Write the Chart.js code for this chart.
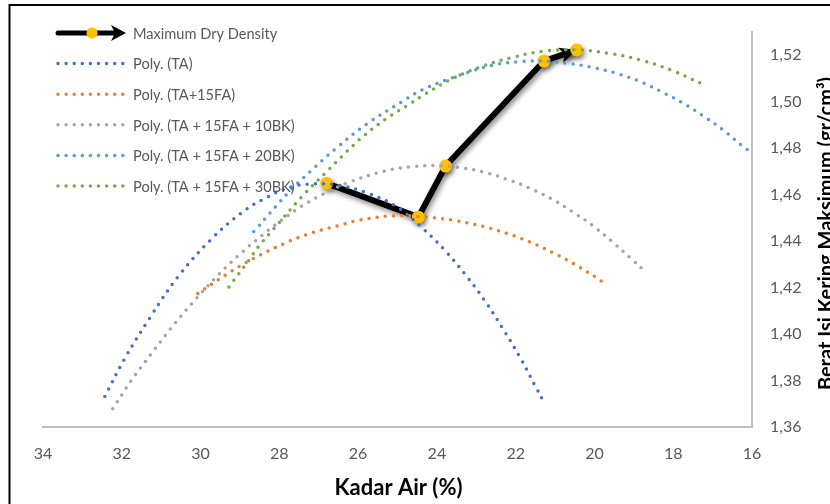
<!DOCTYPE html>
<html>
<head>
<meta charset="utf-8">
<script src="https://cdn.jsdelivr.net/npm/chart.js@4.4.1/dist/chart.umd.min.js"></script>
<style>
  html, body { margin: 0; padding: 0; background: #fff; }
</style>
</head>
<body>
<canvas id="chart" width="830" height="504"></canvas>
<script>
// axis ticks
const xTickValues = [34, 32, 30, 28, 26, 24, 22, 20, 18, 16];
const yTickValues = [1.36, 1.38, 1.40, 1.42, 1.44, 1.46, 1.48, 1.50, 1.52];

// Maximum Dry Density path
const mddX = [26.80, 24.47, 23.78, 21.28, 20.45];
const mddY = [1.4649, 1.4503, 1.4723, 1.5175, 1.5223];

// polynomial trendlines
const taX = [32.43, 31.94, 31.28, 30.57, 29.73, 28.96, 28.41, 27.69, 27.14, 26.54, 25.78, 25.02, 24.39, 23.79, 23.25, 22.75, 22.30, 21.87, 21.48, 21.28];
const taY = [1.3731, 1.3890, 1.4072, 1.4247, 1.4408, 1.4522, 1.4580, 1.4634, 1.4646, 1.4642, 1.4608, 1.4548, 1.4459, 1.4359, 1.4250, 1.4135, 1.4016, 1.3894, 1.3769, 1.3705];

const faX = [30.07, 29.37, 28.65, 27.90, 27.13, 26.52, 25.95, 25.11, 24.47, 23.62, 22.80, 22.20, 21.62, 21.05, 20.50, 19.96, 19.79];
const faY = [1.4175, 1.4254, 1.4326, 1.4388, 1.4438, 1.4466, 1.4491, 1.4509, 1.4506, 1.4491, 1.4462, 1.4432, 1.4395, 1.4350, 1.4300, 1.4244, 1.4224];

const bk10X = [32.23, 31.77, 31.27, 30.76, 30.22, 29.65, 29.05, 28.41, 27.94, 27.39, 26.84, 26.29, 25.32, 24.64, 24.01, 23.41, 22.79, 22.19, 21.62, 21.05, 20.52, 20.00, 19.52, 19.05, 18.74];
const bk10Y = [1.3679, 1.3797, 1.3911, 1.4023, 1.4132, 1.4237, 1.4336, 1.4429, 1.4491, 1.4555, 1.4606, 1.4649, 1.4702, 1.4720, 1.4725, 1.4716, 1.4696, 1.4664, 1.4626, 1.4578, 1.4522, 1.4461, 1.4393, 1.4322, 1.4273];

const bk20X = [28.65, 27.71, 27.22, 26.59, 25.78, 24.89, 24.35, 23.77, 23.16, 22.57, 21.93, 21.28, 20.68, 20.07, 19.47, 18.88, 18.30, 17.74, 17.22, 16.71, 16.22, 16.05];
const bk20Y = [1.4441, 1.4620, 1.4699, 1.4795, 1.4904, 1.5000, 1.5053, 1.5093, 1.5129, 1.5158, 1.5172, 1.5175, 1.5165, 1.5148, 1.5124, 1.5089, 1.5043, 1.4993, 1.4937, 1.4875, 1.4806, 1.4785];

const bk30X = [29.28, 28.78, 28.53, 27.98, 27.43, 26.84, 26.29, 25.83, 25.27, 24.73, 24.40, 23.69, 22.92, 22.12, 21.30, 20.45, 19.62, 18.80, 18.01, 17.25];
const bk30Y = [1.4203, 1.4316, 1.4376, 1.4484, 1.4591, 1.4692, 1.4785, 1.4857, 1.4929, 1.4986, 1.5022, 1.5092, 1.5148, 1.5189, 1.5217, 1.5223, 1.5208, 1.5178, 1.5133, 1.5075];

const FONT = "Lato, 'Open Sans', sans-serif";
const pts = (xs, ys) => xs.map((x, i) => ({ x, y: ys[i] }));

function trend(label, xs, ys, color) {
  return {
    label,
    data: pts(xs, ys),
    showLine: true,
    borderColor: color,
    backgroundColor: color,
    borderWidth: 3.5,
    borderDash: [0, 8.2],
    borderCapStyle: "round",
    pointRadius: 0,
    tension: 0.4,
    order: 0,
  };
}

function arrowHead(ctx, tx, ty, ang, len, half, notch) {
  const c = Math.cos(ang), s = Math.sin(ang);
  const bx = tx - len * c, by = ty - len * s;
  ctx.beginPath();
  ctx.moveTo(tx, ty);
  ctx.lineTo(bx - half * s, by + half * c);
  ctx.lineTo(tx - (len - notch) * c, ty - (len - notch) * s);
  ctx.lineTo(bx + half * s, by - half * c);
  ctx.closePath();
  ctx.fill();
}

// shadow + arrow for the black path
const mddStyle = {
  id: "mddStyle",
  beforeDatasetDraw(chart, args) {
    if (args.index !== 0) return;
    const ctx = chart.ctx;
    ctx.save();
    ctx.shadowColor = "rgba(0,0,0,0.45)";
    ctx.shadowBlur = 5;
    ctx.shadowOffsetX = 2;
    ctx.shadowOffsetY = 3;
    const d = args.meta.data;
    const a = d[d.length - 2], b = d[d.length - 1];
    ctx.fillStyle = "#000";
    arrowHead(ctx, b.x, b.y, Math.atan2(b.y - a.y, b.x - a.x), 17, 8, 4);
  },
  afterDatasetDraw(chart, args) {
    if (args.index !== 0) return;
    chart.ctx.restore();
  },
};

const decor = {
  id: "decor",
  afterDraw(chart) {
    const ctx = chart.ctx;
    const area = chart.chartArea;
    ctx.save();

    // legend
    ctx.font = "14.6px " + FONT;
    ctx.textBaseline = "middle";
    chart.data.datasets.forEach((ds, i) => {
      const y = 33 + i * 30.6;
      if (i === 0) {
        ctx.strokeStyle = "#000";
        ctx.fillStyle = "#000";
        ctx.lineWidth = 5;
        ctx.lineCap = "round";
        ctx.setLineDash([]);
        ctx.beginPath();
        ctx.moveTo(58, y);
        ctx.lineTo(116, y);
        ctx.stroke();
        arrowHead(ctx, 126, y, 0, 15, 8, 4);
        ctx.fillStyle = ds.pointBackgroundColor;
        ctx.beginPath();
        ctx.arc(92, y, 5.5, 0, Math.PI * 2);
        ctx.fill();
      } else {
        ctx.strokeStyle = ds.borderColor;
        ctx.lineWidth = 3.5;
        ctx.lineCap = "round";
        ctx.setLineDash([0, 8.1]);
        ctx.beginPath();
        ctx.moveTo(58, y);
        ctx.lineTo(125, y);
        ctx.stroke();
      }
      ctx.setLineDash([]);
      ctx.fillStyle = "#595959";
      ctx.textAlign = "left";
      ctx.fillText(ds.label, 133, y + 1);
    });

    // axis titles
    ctx.fillStyle = "#000";
    ctx.font = "bold 22px " + FONT;
    ctx.textAlign = "center";
    ctx.fillText("Kadar Air (%)", (area.left + area.right) / 2 + 1, 488);

    ctx.save();
    ctx.translate(833, (area.top + area.bottom) / 2 + 4);
    ctx.rotate(-Math.PI / 2);
    ctx.textBaseline = "alphabetic";
    ctx.font = "bold 20px " + FONT;
    ctx.fillText("Berat Isi Kering Maksimum (gr/cm³)", 0, 0);
    ctx.restore();

    // outer frame
    ctx.strokeStyle = "#000";
    ctx.lineWidth = 2;
    ctx.strokeRect(9.5, 5, 1000, 1000);
    ctx.restore();
  },
};

new Chart(document.getElementById("chart"), {
  type: "scatter",
  data: {
    datasets: [
      {
        label: "Maximum Dry Density",
        data: pts(mddX, mddY),
        showLine: true,
        borderColor: "#000",
        borderWidth: 6,
        borderJoinStyle: "round",
        pointRadius: 6.5,
        pointBackgroundColor: "#FFC000",
        pointBorderColor: "#FFC000",
        pointBorderWidth: 0,
        tension: 0,
        order: 1,
      },
      trend("Poly. (TA)", taX, taY, "#4472C4"),
      trend("Poly. (TA+15FA)", faX, faY, "#ED7D31"),
      trend("Poly. (TA + 15FA + 10BK)", bk10X, bk10Y, "#A5A5A5"),
      trend("Poly. (TA + 15FA + 20BK)", bk20X, bk20Y, "#5B9BD5"),
      trend("Poly. (TA + 15FA + 30BK)", bk30X, bk30Y, "#70AD47"),
    ],
  },
  options: {
    responsive: false,
    animation: false,
    events: [],
    layout: { padding: { left: 43, top: 32, right: 0, bottom: 0 } },
    plugins: { legend: { display: false }, tooltip: { enabled: false } },
    scales: {
      x: {
        type: "linear",
        reverse: true,
        min: 16,
        max: 34,
        afterBuildTicks: (s) => { s.ticks = xTickValues.map((v) => ({ value: v })); },
        afterFit: (s) => { s.height = 77; },
        grid: { display: false, drawTicks: false },
        border: { display: true, color: "#BFBFBF", width: 2 },
        ticks: { color: "#595959", font: { family: FONT, size: 16 }, padding: 17, maxRotation: 0 },
      },
      y: {
        type: "linear",
        position: "right",
        min: 1.36,
        max: 1.53,
        afterBuildTicks: (s) => { s.ticks = yTickValues.map((v) => ({ value: v })); },
        afterFit: (s) => { s.width = 78; },
        grid: { display: false, drawTicks: false },
        border: { display: true, color: "#BFBFBF", width: 2 },
        ticks: {
          color: "#595959",
          font: { family: FONT, size: 16 },
          padding: 18,
          callback: (v) => v.toFixed(2).replace(".", ","),
        },
      },
    },
  },
  plugins: [mddStyle, decor],
});
</script>
</body>
</html>
